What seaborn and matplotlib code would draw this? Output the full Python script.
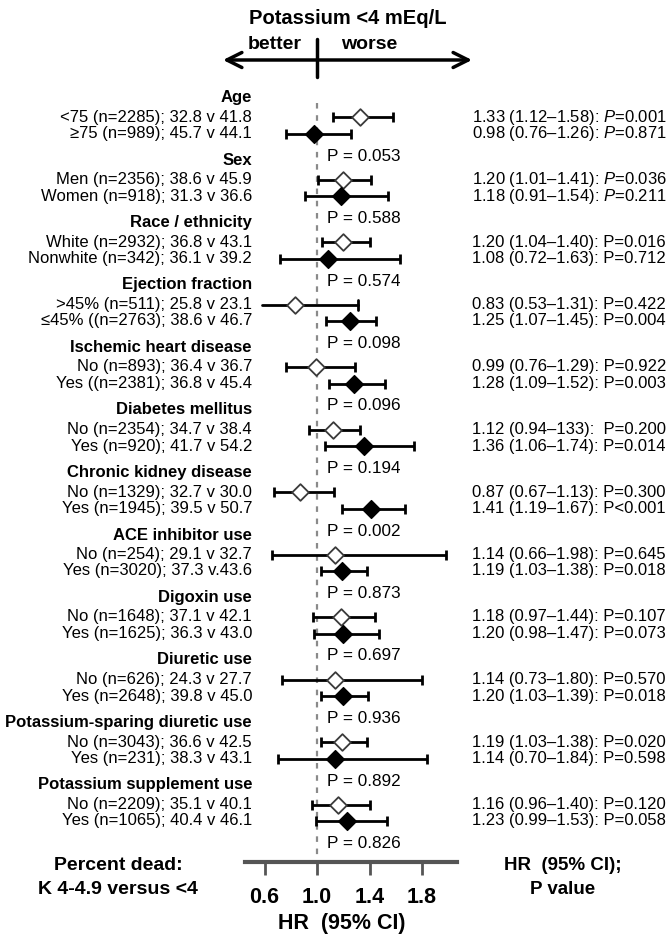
import matplotlib
matplotlib.use("Agg")
import matplotlib.pyplot as plt
import seaborn as sns
import pandas as pd

# Dataset
groups = ["Age", "Sex", "Race / ethnicity", "Ejection fraction", "Ischemic heart disease",
          "Diabetes mellitus", "Chronic kidney disease", "ACE inhibitor use", "Digoxin use",
          "Diuretic use", "Potassium-sparing diuretic use", "Potassium supplement use"]
p_interaction = ["0.053", "0.588", "0.574", "0.098", "0.096", "0.194",
                 "0.002", "0.873", "0.697", "0.936", "0.892", "0.826"]
row_labels = [
    "<75 (n=2285); 32.8 v 41.8", "≥75 (n=989); 45.7 v 44.1",
    "Men (n=2356); 38.6 v 45.9", "Women (n=918); 31.3 v 36.6",
    "White (n=2932); 36.8 v 43.1", "Nonwhite (n=342); 36.1 v 39.2",
    ">45% (n=511); 25.8 v 23.1", "≤45% ((n=2763); 38.6 v 46.7",
    "No (n=893); 36.4 v 36.7", "Yes ((n=2381); 36.8 v 45.4",
    "No (n=2354); 34.7 v 38.4", "Yes (n=920); 41.7 v 54.2",
    "No (n=1329); 32.7 v 30.0", "Yes (n=1945); 39.5 v 50.7",
    "No (n=254); 29.1 v 32.7", "Yes (n=3020); 37.3 v.43.6",
    "No (n=1648); 37.1 v 42.1", "Yes (n=1625); 36.3 v 43.0",
    "No (n=626); 24.3 v 27.7", "Yes (n=2648); 39.8 v 45.0",
    "No (n=3043); 36.6 v 42.5", "Yes (n=231); 38.3 v 43.1",
    "No (n=2209); 35.1 v 40.1", "Yes (n=1065); 40.4 v 46.1",
]
hr = [1.33, 0.98, 1.20, 1.18, 1.20, 1.08, 0.83, 1.25, 0.99, 1.28, 1.12, 1.36,
      0.87, 1.41, 1.14, 1.19, 1.18, 1.20, 1.14, 1.20, 1.19, 1.14, 1.16, 1.23]
ci_low = [1.12, 0.76, 1.01, 0.91, 1.04, 0.72, 0.53, 1.07, 0.76, 1.09, 0.94, 1.06,
          0.67, 1.19, 0.66, 1.03, 0.97, 0.98, 0.73, 1.03, 1.03, 0.70, 0.96, 0.99]
ci_high = [1.58, 1.26, 1.41, 1.54, 1.40, 1.63, 1.31, 1.45, 1.29, 1.52, 1.33, 1.74,
           1.13, 1.67, 1.98, 1.38, 1.44, 1.47, 1.80, 1.39, 1.38, 1.84, 1.40, 1.53]
right_labels = [
    "1.33 (1.12–1.58): $P$=0.001", "0.98 (0.76–1.26): $P$=0.871",
    "1.20 (1.01–1.41): $P$=0.036", "1.18 (0.91–1.54): $P$=0.211",
    "1.20 (1.04–1.40): P=0.016", "1.08 (0.72–1.63): P=0.712",
    "0.83 (0.53–1.31): P=0.422", "1.25 (1.07–1.45): P=0.004",
    "0.99 (0.76–1.29): P=0.922", "1.28 (1.09–1.52): P=0.003",
    "1.12 (0.94–133):  P=0.200", "1.36 (1.06–1.74): P=0.014",
    "0.87 (0.67–1.13): P=0.300", "1.41 (1.19–1.67): P<0.001",
    "1.14 (0.66–1.98): P=0.645", "1.19 (1.03–1.38): P=0.018",
    "1.18 (0.97–1.44): P=0.107", "1.20 (0.98–1.47): P=0.073",
    "1.14 (0.73–1.80): P=0.570", "1.20 (1.03–1.39): P=0.018",
    "1.19 (1.03–1.38): P=0.020", "1.14 (0.70–1.84): P=0.598",
    "1.16 (0.96–1.40): P=0.120", "1.23 (0.99–1.53): P=0.058",
]
hr_ticks = [0.6, 1.0, 1.4, 1.8]

# layout (pixel rows, figure is 671 x 949)
first_header = 97.5
group_step = 62.5
rows = []
for g in range(len(groups)):
    h = first_header + g * group_step
    rows += [h + 19.5, h + 36]

df = pd.DataFrame({"label": row_labels, "hr": hr, "lo": ci_low, "hi": ci_high,
                   "y": rows, "kind": ["open", "filled"] * len(groups)})

sns.set_theme(style="white")
plt.rcParams["font.family"] = ["Liberation Sans", "DejaVu Sans"]
plt.rcParams["text.color"] = "black"
plt.rcParams["xtick.color"] = "black"
plt.rcParams["mathtext.fontset"] = "custom"
plt.rcParams["mathtext.rm"] = "Liberation Sans"
plt.rcParams["mathtext.it"] = "Liberation Sans:italic"

fig = plt.figure(figsize=(6.71, 9.49), dpi=100)
ax = fig.add_axes([0, 0, 1, 1])
px_per_unit = 131.25
x_ref = 317
ax.set_xlim(1 - x_ref / px_per_unit, 1 + (671 - x_ref) / px_per_unit)
ax.set_ylim(949, 0)
trans = ax.get_yaxis_transform()  # x in figure fraction, y in pixel rows

# reference line
ax.plot([1, 1], [103, 862], color="#8a8a8a", lw=1.6, ls=(0, (2.5, 3)), zorder=1)

# confidence intervals
axis_min = 0.6
for _, r in df.iterrows():
    if r.lo < axis_min:
        ax.plot([axis_min - 0.02, r.hi], [r.y, r.y], color="black", lw=2, zorder=2)
        ax.plot([r.hi, r.hi], [r.y - 5, r.y + 5], color="black", lw=2, zorder=2)
    else:
        ax.errorbar(r.hr, r.y, xerr=[[r.hr - r.lo], [r.hi - r.hr]],
                    fmt="none", ecolor="black", elinewidth=2, capsize=3.6,
                    capthick=2, zorder=2)

sns.scatterplot(data=df[df.kind == "open"], x="hr", y="y", marker="D", s=72,
                color="white", edgecolor="#3a3a3a", linewidth=1.3, zorder=3, ax=ax)
sns.scatterplot(data=df[df.kind == "filled"], x="hr", y="y", marker="D", s=82,
                color="black", edgecolor="black", linewidth=1, zorder=3, ax=ax)

fs = 12
for g, name in enumerate(groups):
    h = first_header + g * group_step
    ax.text(252 / 671, h, name, transform=trans, ha="right", va="center",
            fontsize=fs, fontweight="bold")
    ax.text(327 / 671, h + 58.5, "P = " + p_interaction[g], transform=trans,
            ha="left", va="center", fontsize=12.3)
for lab, rt, y in zip(row_labels, right_labels, rows):
    ax.text(252 / 671, y, lab, transform=trans, ha="right", va="center", fontsize=fs)
    ax.text(472 / 671, y, rt, transform=trans, ha="left", va="center", fontsize=fs)

# header
ax.text(348 / 671, 18, "Potassium <4 mEq/L", transform=trans, ha="center",
        va="center", fontsize=14.5, fontweight="bold")
ax.text(275 / 671, 44, "better", transform=trans, ha="center", va="center",
        fontsize=14, fontweight="bold")
ax.text(369 / 671, 44, "worse", transform=trans, ha="center", va="center",
        fontsize=14, fontweight="bold")
ax.annotate("", xy=(1 - (x_ref - 223) / px_per_unit, 60),
            xytext=(1 + (472 - x_ref) / px_per_unit, 60),
            arrowprops=dict(arrowstyle="<->,head_length=0.9,head_width=0.45",
                            lw=2.5, color="black", shrinkA=0, shrinkB=0))
ax.plot([1, 1], [39, 77], color="black", lw=2.5)

# HR axis
sns.despine(ax=ax, left=True, top=True, right=True)
ax.spines["bottom"].set_position(("data", 862))
ax.spines["bottom"].set_bounds(0.45, 2.07)
ax.spines["bottom"].set_linewidth(3)
ax.spines["bottom"].set_color("#555555")
ax.set_xticks(hr_ticks)
ax.set_xticklabels([f"{t:.1f}" for t in hr_ticks], fontsize=15.5, fontweight="bold")
ax.tick_params(axis="x", direction="out", length=9, width=2, color="#555555",
               labelcolor="black", pad=9, bottom=True)
ax.set_yticks([])
ax.set_xlabel("")
ax.set_ylabel("")

ax.text(118 / 671, 866, "Percent dead:", transform=trans, ha="center", va="center",
        fontsize=14, fontweight="bold")
ax.text(118 / 671, 889, "K 4-4.9 versus <4", transform=trans, ha="center",
        va="center", fontsize=14, fontweight="bold")
ax.text(563 / 671, 866, "HR  (95% CI);", transform=trans, ha="center", va="center",
        fontsize=13.5, fontweight="bold")
ax.text(563 / 671, 889, "P value", transform=trans, ha="center", va="center",
        fontsize=13.5, fontweight="bold")
ax.text(342 / 671, 924, "HR  (95% CI)", transform=trans, ha="center", va="center",
        fontsize=15.5, fontweight="bold")

fig.savefig("out.png", dpi=100)
